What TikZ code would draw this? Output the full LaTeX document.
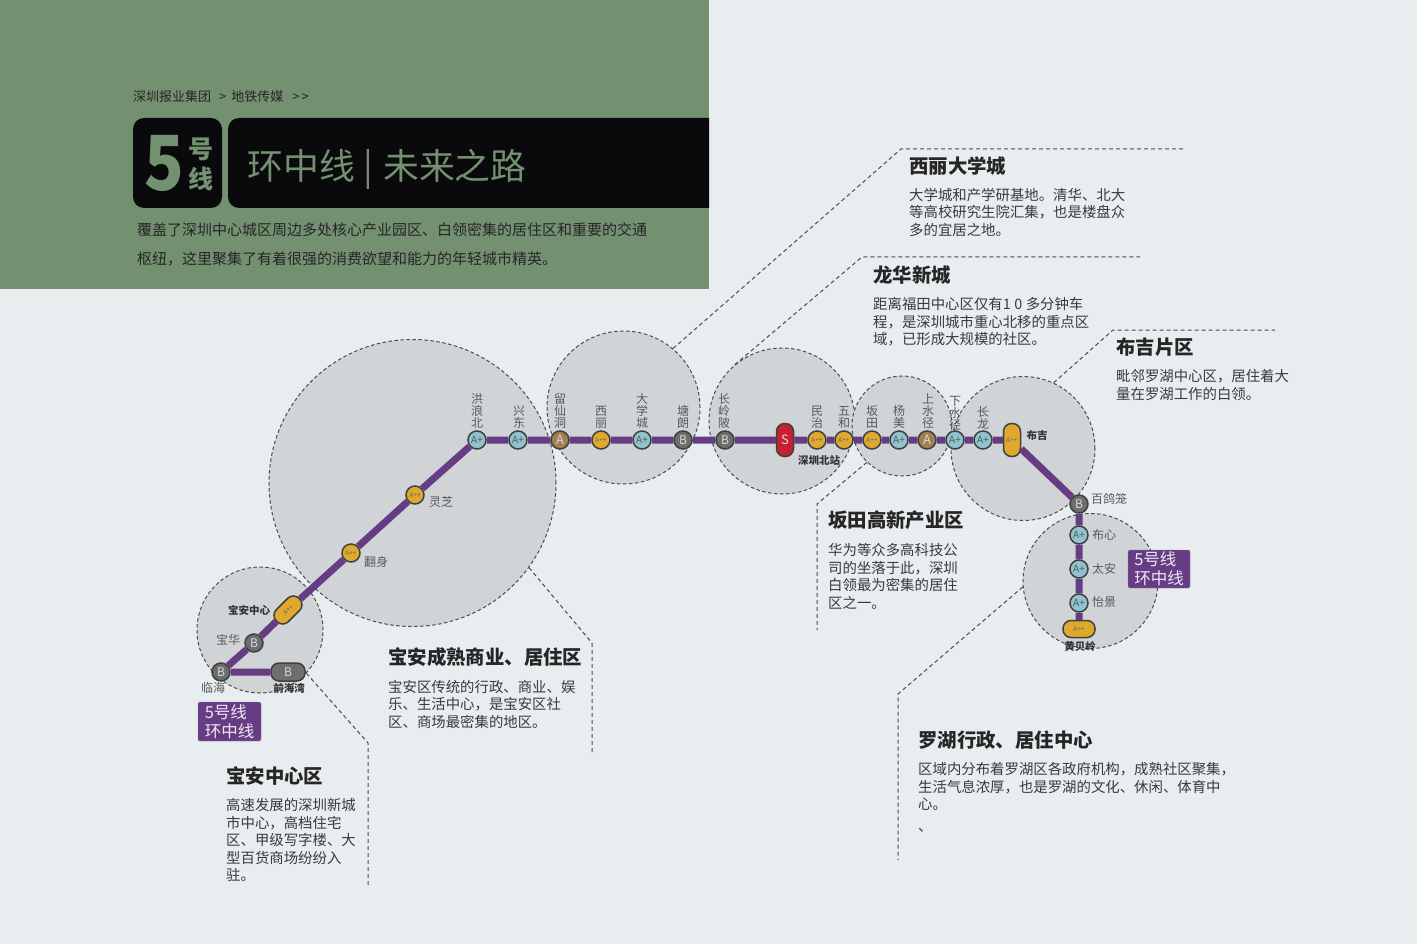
\documentclass[tikz,border=0pt]{standalone}
\usepackage{fontspec}
\setmainfont{Noto Sans CJK SC}
\pgfdeclarelayer{front}
\pgfsetlayers{main,front}
\definecolor{pagebg}{HTML}{E8EDEF}
\definecolor{headgreen}{HTML}{739070}
\definecolor{headblack}{HTML}{0A0A0C}
\definecolor{zonegray}{HTML}{D1D4D6}
\definecolor{routepurple}{HTML}{663D85}
\definecolor{aplusblue}{HTML}{8FC4CE}
\definecolor{appyellow}{HTML}{E0A92E}
\definecolor{abrown}{HTML}{A07F50}
\definecolor{bgray}{HTML}{6E6E6E}
\definecolor{sred}{HTML}{C8202E}
\definecolor{bodytext}{HTML}{3A3A3A}
\begin{document}
\begin{tikzpicture}[x=1pt,y=-1pt,
    every node/.style={inner sep=0pt},
    zone/.style={circle, draw=black!70, fill=zonegray, line width=1pt, dash pattern=on 3.5pt off 2.5pt},
    leader/.style={draw=black!70, line width=1pt, dash pattern=on 4pt off 3pt},
    route/.style={draw=routepurple, line width=7pt},
    station/.style={circle, draw=black!75, line width=1.5pt, minimum size=18pt},
    aplus/.style={station, fill=aplusblue, text=black!65, font=\fontsize{10}{10}\selectfont},
    app/.style={station, fill=appyellow, text=black!60, font=\fontsize{6.5}{7}\selectfont},
    agrade/.style={station, fill=abrown, text=white!85!black, font=\fontsize{13}{13}\selectfont},
    bgrade/.style={station, fill=bgray, text=white!85!black, font=\fontsize{12}{12}\selectfont},
    pill/.style={draw=black!75, line width=1.5pt, rounded corners=8pt, font=\fontsize{6.5}{7}\selectfont},
    stname/.style={text=black!65, align=center, font=\fontsize{12}{12}\selectfont},
    stbold/.style={text=black!80, font=\fontsize{10.5}{12}\bfseries\selectfont},
    areatitle/.style={anchor=north west, text=black!85, font=\fontsize{19.4}{23}\bfseries\selectfont},
    areatext/.style={anchor=north west, align=left, text=bodytext, font=\fontsize{14.4}{17.4}\selectfont},
    linetag/.style={fill=routepurple, draw=routepurple!70, rounded corners=1.5pt, text=white!88!routepurple, align=left, minimum width=62pt, minimum height=38pt, font=\fontsize{16.5}{19}\selectfont}]
\useasboundingbox (0,0) rectangle (1417,944);
\fill [pagebg] (0,0) rectangle (1417,944);

% header
\fill [headgreen] (0,0) rectangle (709,289);
\fill [headblack, rounded corners=11pt] (133,118) rectangle (222,208);
\fill [headblack] (709,118) -- (709,208) [rounded corners=11pt] -- (228,208) -- (228,118) [sharp corners] -- (709,118) -- cycle;
\node [anchor=west, text=black!85, font=\fontsize{13}{15}\selectfont] (crumb) at (133,97) {深圳报业集团\hspace{8pt}>\hspace{5pt}地铁传媒\hspace{9pt}>\hspace{2pt}>};
\node [text=headgreen, font=\fontsize{76}{76}\bfseries\selectfont] (five) at (164,163) {\scalebox{0.86}[1]{5}};
\node [text=headgreen, font=\fontsize{25}{25}\bfseries\selectfont] (hao) at (201,149) {号};
\node [text=headgreen, font=\fontsize{25}{25}\bfseries\selectfont] (xian) at (201,179) {线};
\node [anchor=west, text=headgreen, font=\fontsize{35.8}{38}\selectfont] (headline) at (247.5,169) {环中线 | \kern2.5pt 未来之路};
\node [anchor=north west, align=left, text=black!85, font=\fontsize{15}{28.5}\selectfont] (intro) at (137,223) {覆盖了深圳中心城区周边多处核心产业园区、白领密集的居住区和重要的交通\\枢纽，这里聚集了有着很强的消费欲望和能力的年轻城市精英。};

% zones
\node [zone, minimum size=287pt] (zonebaoan) at (412.5,483) {};
\node [zone, minimum size=126pt] (zonecenter) at (260,630) {};
\node [zone, minimum size=153pt] (zonexili) at (623.5,407.5) {};
\node [zone, minimum size=146pt] (zonelonghua) at (782,421) {};
\node [zone, minimum size=100pt] (zonebantian) at (902,426) {};
\node [zone, minimum size=144pt] (zonebuji) at (1023,448.5) {};
\node [zone, minimum size=135pt] (zoneluohu) at (1090.5,581) {};

% stations
\begin{pgfonlayer}{front}
\node [bgrade] (linhai) at (221,672) {B};
\node [pill, fill=bgray, text=white!85!black, minimum width=34pt, minimum height=18pt, font=\fontsize{12}{12}\selectfont] (qianhaiwan) at (288,672) {B};
\node [bgrade] (baohua) at (254,643) {B};
\node [pill, fill=appyellow, text=black!60, rotate=45, minimum width=32pt, minimum height=17pt] (baoanzx) at (288,610) {A++};
\node [app] (fanshen) at (351,553) {A++};
\node [app] (lingzhi) at (415,495) {A++};
\node [aplus] (honglang) at (477,440) {A+};
\node [aplus] (xingdong) at (518,440) {A+};
\node [agrade] (liuxian) at (560,440) {A};
\node [app] (xili) at (601,440) {A++};
\node [aplus] (daxue) at (642,440) {A+};
\node [bgrade] (tanglang) at (683,440) {B};
\node [bgrade] (changling) at (725,440) {B};
\node [pill, fill=sred, text=white!85!black, minimum width=17pt, minimum height=33pt, font=\fontsize{13}{13}\selectfont] (shenzhenbei) at (785,440) {S};
\node [app] (minzhi) at (817,440) {A++};
\node [app] (wuhe) at (844,440) {A++};
\node [app] (bantian) at (872,440) {A++};
\node [aplus] (yangmei) at (899,440) {A+};
\node [agrade] (shangshui) at (927,440) {A};
\node [aplus] (xiashui) at (955,440) {A+};
\node [aplus] (changlong) at (983,440) {A+};
\node [pill, fill=appyellow, text=black!60, minimum width=17pt, minimum height=33pt] (buji) at (1012,440) {A++};
\node [bgrade] (baige) at (1079,504) {B};
\node [aplus] (buxin) at (1079,535) {A+};
\node [aplus] (taian) at (1079,569) {A+};
\node [aplus] (yijing) at (1079,603) {A+};
\node [pill, fill=appyellow, text=black!60, minimum width=32pt, minimum height=17pt] (huangbei) at (1079,629) {A++};

% station names
\node [stname, anchor=south] (nhonglang) at (477,429) {洪\\浪\\北};
\node [stname, anchor=south] (nxingdong) at (519,429) {兴\\东};
\node [stname, anchor=south] (nliuxian) at (560,429) {留\\仙\\洞};
\node [stname, anchor=south] (nxili) at (601,429) {西\\丽};
\node [stname, anchor=south] (ndaxue) at (642,429) {大\\学\\城};
\node [stname, anchor=south] (ntanglang) at (683,429) {塘\\朗};
\node [stname, anchor=south] (nchangling) at (724,429) {长\\岭\\陂};
\node [stname, anchor=south] (nminzhi) at (817,429) {民\\治};
\node [stname, anchor=south] (nwuhe) at (844,429) {五\\和};
\node [stname, anchor=south] (nbantian) at (872,429) {坂\\田};
\node [stname, anchor=south] (nyangmei) at (899,429) {杨\\美};
\node [stname, anchor=south] (nshangshui) at (928,429) {上\\水\\径};
\node [stname, anchor=south] (nxiashui) at (955,431) {下\\水\\径};
\node [stname, anchor=south] (nchanglong) at (983,429) {长\\龙};
\node [stname] (nlingzhi) at (441,502) {灵芝};
\node [stname] (nfanshen) at (376,562) {翻身};
\node [stname] (nbaohua) at (228,640) {宝华};
\node [stname] (nlinhai) at (213,688) {临海};
\node [stname] (nbaige) at (1109,499) {百鸽笼};
\node [stname] (nbuxin) at (1104,535) {布心};
\node [stname] (ntaian) at (1104,569) {太安};
\node [stname] (nyijing) at (1104,602) {怡景};
\node [stbold] (nbaoanzx) at (249,610) {宝安中心};
\node [stbold] (nqianhai) at (289,688) {前海湾};
\node [stbold] (nshenzhenbei) at (819,460) {深圳北站};
\node [stbold] (nbuji) at (1037,435) {布吉};
\node [stbold] (nhuangbei) at (1080,647) {黄贝岭};

% line tags
\node [linetag, minimum width=63pt, minimum height=39pt] (tagleft) at (229.5,721.5) {5号线\\环中线};
\node [linetag, minimum width=62pt, minimum height=38pt] (tagright) at (1159,569) {5号线\\环中线};
\end{pgfonlayer}

% line 5
\draw [route] (huangbei) -- (yijing) -- (taian) -- (buxin) -- (baige) -- (buji) -- (changlong) -- (xiashui) -- (shangshui) -- (yangmei) -- (bantian) -- (wuhe) -- (minzhi) -- (shenzhenbei) -- (changling) -- (tanglang) -- (daxue) -- (xili) -- (liuxian) -- (xingdong) -- (honglang) -- (lingzhi) -- (fanshen) -- (baoanzx) -- (baohua) -- (linhai) -- (qianhaiwan);

% leaders
\coordinate (xilibend) at (901,149);
\coordinate (xiliend) at (1186,149);
\coordinate (longhuabend) at (862,257);
\coordinate (longhuaend) at (1140,257);
\coordinate (bujibend) at (1113,330);
\coordinate (bujiend) at (1275,330);
\coordinate (bantianbend) at (817,504);
\coordinate (bantianend) at (817,630);
\coordinate (luohubend) at (898,694);
\coordinate (luohuend) at (898,860);
\coordinate (baoanbend) at (592,643);
\coordinate (baoanend) at (592,755);
\coordinate (centerbend) at (368,743);
\coordinate (centerend) at (368,886);
\draw [leader] (zonexili.50) -- (xilibend) -- (xiliend);
\draw [leader] (zonelonghua.130) -- (longhuabend) -- (longhuaend);
\draw [leader] (zonebuji.65) -- (bujibend) -- (bujiend);
\draw [leader] (zonebantian.226) -- (bantianbend) -- (bantianend);
\draw [leader] (zoneluohu.185) -- (luohubend) -- (luohuend);
\draw [leader] (zonebaoan.-36) -- (baoanbend) -- (baoanend);
\draw [leader] (zonecenter.-43) -- (centerbend) -- (centerend);

% area notes
\node [areatitle] (txili) at (909,157) {西丽大学城};
\node [areatext] (dxili) at (909,188) {大学城和产学研基地。清华、北大\\等高校研究生院汇集，也是楼盘众\\多的宜居之地。};
\node [areatitle] (tlonghua) at (873,266) {龙华新城};
\node [areatext] (dlonghua) at (873,297.5) {距离福田中心区仅有1\kern3.5pt 0\kern3.5pt 多分钟车\\程，是深圳城市重心北移的重点区\\域，已形成大规模的社区。};
\node [areatitle] (tbuji) at (1116,338) {布吉片区};
\node [areatext] (dbuji) at (1116,369.5) {毗邻罗湖中心区，居住着大\\量在罗湖工作的白领。};
\node [areatitle] (tbantian) at (828,511) {坂田高新产业区};
\node [areatext] (dbantian) at (828,543.5) {华为等众多高科技公\\司的坐落于此，深圳\\白领最为密集的居住\\区之一。};
\node [areatitle] (tbaoan) at (388,647) {宝安成熟商业、居住区};
\node [areatext] (dbaoan) at (388,680) {宝安区传统的行政、商业、娱\\乐、生活中心，是宝安区社\\区、商场最密集的地区。};
\node [areatitle] (tcenter) at (226,766) {宝安中心区};
\node [areatext] (dcenter) at (226,798.5) {高速发展的深圳新城\\市中心，高档住宅\\区、甲级写字楼、大\\型百货商场纷纷入\\驻。};
\node [areatitle] (tluohu) at (918,731) {罗湖行政、居住中心};
\node [areatext] (dluohu) at (918,762.5) {区域内分布着罗湖区各政府机构，成熟社区聚集，\\生活气息浓厚，也是罗湖的文化、休闲、体育中\\心。\\[4pt]、};
\end{tikzpicture}
\end{document}
